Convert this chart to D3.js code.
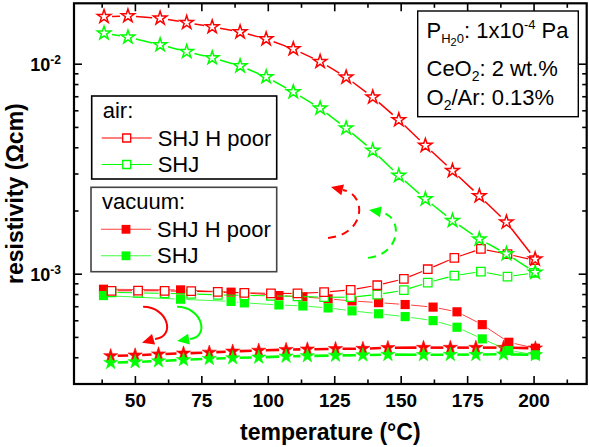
<!DOCTYPE html>
<html><head><meta charset="utf-8">
<script src="https://cdn.jsdelivr.net/npm/d3@7"></script>
<style>
body{margin:0;background:#fff;}
svg{display:block;font-family:"Liberation Sans",Arial,sans-serif;}
</style></head><body>
<svg id="chart" width="589" height="447"></svg>
<script>
// ---- data -------------------------------------------------------------
// heating in air (open squares)
const airTemp   = [41,51,61,71,81,91,101,111,121,131,141,151,160,170,180,190,200];
const airHPoor  = [0.000833,0.000835,0.000833,0.000830,0.000824,0.000815,0.000810,0.000810,0.000821,0.000842,0.000886,0.000950,0.001056,0.001196,0.001319,0.001245,0.001166];
const airSHJ    = [0.000819,0.000815,0.000810,0.000806,0.000797,0.000793,0.000788,0.000784,0.000777,0.000777,0.000800,0.000839,0.000912,0.000985,0.001029,0.000974,0.001014];
// cooling in air (open stars)
const airCoolTemp  = [38.2,47.2,59.3,69.3,78.9,89.4,99.2,109.4,119.5,129.3,139.3,149.1,159.1,169.3,179.4,189.6,200.4];
const airCoolHPoor = [0.01685,0.01698,0.01656,0.01578,0.01505,0.01424,0.01319,0.01183,0.01029,0.00867,0.00697,0.00543,0.00410,0.00311,0.00236,0.00177,0.00118];
const airCoolSHJ   = [0.01405,0.01345,0.01236,0.01148,0.01072,0.00981,0.00870,0.00738,0.00617,0.00496,0.00388,0.00295,0.00228,0.00180,0.00147,0.00125,0.00102];
// heating in vacuum (filled squares)
const vacTemp   = [38,67,86,91,104,113,122.5,131.5,141.5,151.5,162,171,180.5,190.5,200.5];
const vacHPoor  = [0.000848,0.000842,0.000821,0.000815,0.000791,0.000780,0.000763,0.000746,0.000732,0.000717,0.000697,0.000662,0.000575,0.000474,0.000444];
const vacSHJ    = [0.000791,0.000760,0.000742,0.000730,0.000714,0.000706,0.000691,0.000669,0.000648,0.000628,0.000601,0.000559,0.000492,0.000433,0.000413];
// cooling in vacuum (filled stars)
const vacCoolTemp  = [40.7,49.9,58.7,68.1,77.8,86.6,96.4,106.7,114.7,125.3,135.6,145,158.4,168.5,178.1,188.5,200.5];
const vacCoolHPoor = [0.000408,0.000411,0.000416,0.000420,0.000424,0.000429,0.000433,0.000437,0.000439,0.000441,0.000442,0.000446,0.000447,0.000447,0.000447,0.000447,0.000444];
const vacCoolSHJ   = [0.000379,0.000382,0.000386,0.000391,0.000396,0.000399,0.000402,0.000406,0.000408,0.000410,0.000412,0.000414,0.000413,0.000414,0.000414,0.000416,0.000413];

// axis ticks
const xTicks      = [50,75,100,125,150,175,200];
const xMinorTicks = [37.5,62.5,87.5,112.5,137.5,162.5,187.5,212.5];
const yMajor      = [1e-3,1e-2];
const yMajorLabel = ["-3","-2"];
const yMinor      = [4e-4,5e-4,6e-4,7e-4,8e-4,9e-4,2e-3,3e-3,4e-3,5e-3,6e-3,7e-3,8e-3,9e-3];

// arrows: [temperature, resistivity] — start, control1, control2, end, tip
const solidArrows = [
  {color:"#ff0000", pts:[[52.9,6.99e-4],[62.3,6.99e-4],[65.3,5.03e-4],[57.4,4.92e-4],[52.5,4.72e-4]]},
  {color:"#00ff00", pts:[[65.7,6.99e-4],[75.1,6.99e-4],[78.1,5.03e-4],[70.6,4.92e-4],[65.7,4.81e-4]]}
];
const dashedArrows = [
  {color:"#ff0000", pts:[[122.5,1.489e-3],[136.4,1.539e-3],[137.5,2.386e-3],[128.1,2.520e-3],[123.6,2.604e-3]]},
  {color:"#00ff00", pts:[[137.5,1.196e-3],[149.5,1.236e-3],[151.4,1.854e-3],[142.4,1.980e-3],[137.9,2.024e-3]]}
];

// ---- layout -----------------------------------------------------------
const W = 589, H = 447;
const m = {left:74, right:2.3, top:3.3, bottom:63};
const x = d3.scaleLinear().domain([26.9,219.8]).range([m.left, W-m.right]);
const y = d3.scaleLog().domain([3.0e-4,1.95e-2]).range([H-m.bottom, m.top]);
const RED = "#ff0000", GREEN = "#00ff00";

const svg = d3.select("#chart");
const plot = svg.append("g");

// line segments with a small gap around every marker
function gapSegments(g, xs, ys, gap, style){
  const p = xs.map((t,i)=>[x(t), y(ys[i])]);
  for(let i=0;i<p.length-1;i++){
    const [x0,y0]=p[i],[x1,y1]=p[i+1];
    const dx=x1-x0, dy=y1-y0, L=Math.hypot(dx,dy);
    if(L<=2*gap) continue;
    const ux=dx/L, uy=dy/L;
    g.append("line")
      .attr("x1",x0+ux*gap).attr("y1",y0+uy*gap)
      .attr("x2",x1-ux*gap).attr("y2",y1-uy*gap)
      .attr("stroke",style.color).attr("stroke-width",style.width)
      .attr("stroke-opacity",style.opacity||1);
  }
}
function markers(g, xs, ys, type, size, fill, stroke, sw){
  g.selectAll(null).data(xs).enter().append("path")
    .attr("d", d3.symbol().type(type).size(size)())
    .attr("transform",(t,i)=>`translate(${x(t)},${y(ys[i])})`)
    .attr("fill",fill).attr("stroke",stroke).attr("stroke-width",sw);
}

// vacuum cooling (filled stars)
[[vacCoolHPoor,RED],[vacCoolSHJ,GREEN]].forEach(([v,c])=>{
  const g=plot.append("g");
  gapSegments(g, vacCoolTemp, v, 7, {color:c,width:2.6});
  markers(g, vacCoolTemp, v, d3.symbolStar, 62, c, c, 0.6);
});
// vacuum heating (filled squares)
[[vacHPoor,RED],[vacSHJ,GREEN]].forEach(([v,c])=>{
  const g=plot.append("g");
  gapSegments(g, vacTemp, v, 6, {color:c,width:1,opacity:0.75});
  markers(g, vacTemp, v, d3.symbolSquare, 84, c, "none", 0);
});
// air heating (open squares)
[[airSHJ,GREEN],[airHPoor,RED]].forEach(([v,c])=>{
  const g=plot.append("g");
  gapSegments(g, airTemp, v, 6, {color:c,width:1.1});
  markers(g, airTemp, v, d3.symbolSquare, 72, "#fff", c, 1.3);
});
// air cooling (open stars)
[[airCoolHPoor,RED],[airCoolSHJ,GREEN]].forEach(([v,c])=>{
  const g=plot.append("g");
  gapSegments(g, airCoolTemp, v, 8, {color:c,width:1.5});
  markers(g, airCoolTemp, v, d3.symbolStar, 56, "#fff", c, 1.5);
});

// curved arrows
function arrow(a, dashed){
  const P = a.pts.map(([t,v])=>[x(t),y(v)]);
  const [s,c1,c2,e,tip] = P;
  const path = d3.path();
  path.moveTo(s[0],s[1]);
  path.bezierCurveTo(c1[0],c1[1],c2[0],c2[1],e[0],e[1]);
  plot.append("path").attr("d",path.toString()).attr("fill","none")
    .attr("stroke",a.color).attr("stroke-width",2)
    .attr("stroke-dasharray",dashed?"8,6":null);
  const dx=tip[0]-e[0], dy=tip[1]-e[1], L=Math.hypot(dx,dy), ux=dx/L, uy=dy/L;
  const bx=tip[0]-ux*12, by=tip[1]-uy*12;
  plot.append("path")
    .attr("d",`M${tip[0]},${tip[1]}L${bx-uy*5.5},${by+ux*5.5}L${bx+uy*5.5},${by-ux*5.5}Z`)
    .attr("fill",a.color);
}
solidArrows.forEach(a=>arrow(a,false));
dashedArrows.forEach(a=>arrow(a,true));

// ---- axes -------------------------------------------------------------
const axes = svg.append("g");
const x0=m.left, x1=W-m.right, y0=H-m.bottom, y1=m.top;
function ticks(vals, len){
  vals.forEach(v=>{
    const px=x(v);
    axes.append("line").attr("x1",px).attr("x2",px).attr("y1",y0).attr("y2",y0-len).attr("stroke","#000").attr("stroke-width",1.6);
    axes.append("line").attr("x1",px).attr("x2",px).attr("y1",y1).attr("y2",y1+len).attr("stroke","#000").attr("stroke-width",1.6);
  });
}
ticks(xTicks,8); ticks(xMinorTicks,4.5);
function yt(vals,len){
  vals.forEach(v=>{
    const py=y(v);
    axes.append("line").attr("x1",x0).attr("x2",x0+len).attr("y1",py).attr("y2",py).attr("stroke","#000").attr("stroke-width",1.6);
    axes.append("line").attr("x1",x1).attr("x2",x1-len).attr("y1",py).attr("y2",py).attr("stroke","#000").attr("stroke-width",1.6);
  });
}
yt(yMajor,8); yt(yMinor,4.5);
axes.append("rect").attr("x",x0).attr("y",y1).attr("width",x1-x0).attr("height",y0-y1)
  .attr("fill","none").attr("stroke","#000").attr("stroke-width",2.2);

// tick labels
axes.selectAll(null).data(xTicks).enter().append("text")
  .attr("x",d=>x(d)).attr("y",407).attr("text-anchor","middle")
  .attr("font-size",19).attr("font-weight","bold").text(d=>d);
yMajor.forEach((v,i)=>{
  const t=axes.append("text").attr("x",61).attr("y",y(v)+7).attr("text-anchor","end")
    .attr("font-weight","bold").attr("font-size",18);
  t.append("tspan").text("10");
  t.append("tspan").attr("font-size",12).attr("dy",-7).text(yMajorLabel[i]);
});
// axis titles
svg.append("text").attr("x",(x0+x1)/2).attr("y",440).attr("text-anchor","middle")
  .attr("font-size",23).attr("font-weight","bold").text("temperature (°C)");
svg.append("text").attr("transform",`translate(23,${(y0+y1)/2}) rotate(-90)`)
  .attr("text-anchor","middle").attr("font-size",23).attr("font-weight","bold")
  .text("resistivity (Ωcm)");

// ---- legends ----------------------------------------------------------
function legendBox(bx,by,bw,bh,title,rows,filled,border){
  const g=svg.append("g");
  g.append("rect").attr("x",bx).attr("y",by).attr("width",bw).attr("height",bh)
    .attr("fill","#fff").attr("stroke",border).attr("stroke-width",1.6);
  g.append("text").attr("x",bx+11).attr("y",by+22).attr("font-size",22).text(title);
  rows.forEach((r,i)=>{
    const ly=by+42+i*26.5;
    g.append("line").attr("x1",bx+10).attr("x2",bx+60).attr("y1",ly).attr("y2",ly)
      .attr("stroke",r.color).attr("stroke-width",1.1).attr("stroke-opacity",filled?0.75:1);
    g.append("path").attr("d",d3.symbol().type(d3.symbolSquare).size(filled?78:64)())
      .attr("transform",`translate(${bx+35},${ly})`)
      .attr("fill",filled?r.color:"#fff").attr("stroke",filled?"none":r.color).attr("stroke-width",1.3);
    g.append("text").attr("x",bx+66).attr("y",ly+7.5).attr("font-size",22).text(r.label);
  });
}
legendBox(91.7,96,185,83,"air:",[{color:RED,label:"SHJ H poor"},{color:GREEN,label:"SHJ"}],false,"#000");
legendBox(91,187.3,185.7,84.4,"vacuum:",[{color:RED,label:"SHJ H poor"},{color:GREEN,label:"SHJ"}],true,"#444");

// conditions box
const cb = svg.append("g");
cb.append("rect").attr("x",417.7).attr("y",11).attr("width",160.6).attr("height",105.7)
  .attr("fill","#fff").attr("stroke","#000").attr("stroke-width",1.4);
const l1 = cb.append("text").attr("x",426.5).attr("y",37.7).attr("font-size",22);
l1.append("tspan").text("P");
l1.append("tspan").attr("font-size",13).attr("dy",5).text("H");
l1.append("tspan").attr("font-size",11).attr("dy",3).text("2");
l1.append("tspan").attr("font-size",13).attr("dy",-3).text("0");
l1.append("tspan").attr("dy",-5).text(": 1x10");
l1.append("tspan").attr("font-size",13).attr("dy",-9).text("-4");
l1.append("tspan").attr("dy",9).text(" Pa");
const l2 = cb.append("text").attr("x",426.5).attr("y",76).attr("font-size",22);
l2.append("tspan").text("CeO");
l2.append("tspan").attr("font-size",14).attr("dy",5).text("2");
l2.append("tspan").attr("dy",-5).text(": 2 wt.%");
const l3 = cb.append("text").attr("x",426.5).attr("y",104.5).attr("font-size",22);
l3.append("tspan").text("O");
l3.append("tspan").attr("font-size",14).attr("dy",5).text("2");
l3.append("tspan").attr("dy",-5).text("/Ar: 0.13%");
</script>
</body></html>
